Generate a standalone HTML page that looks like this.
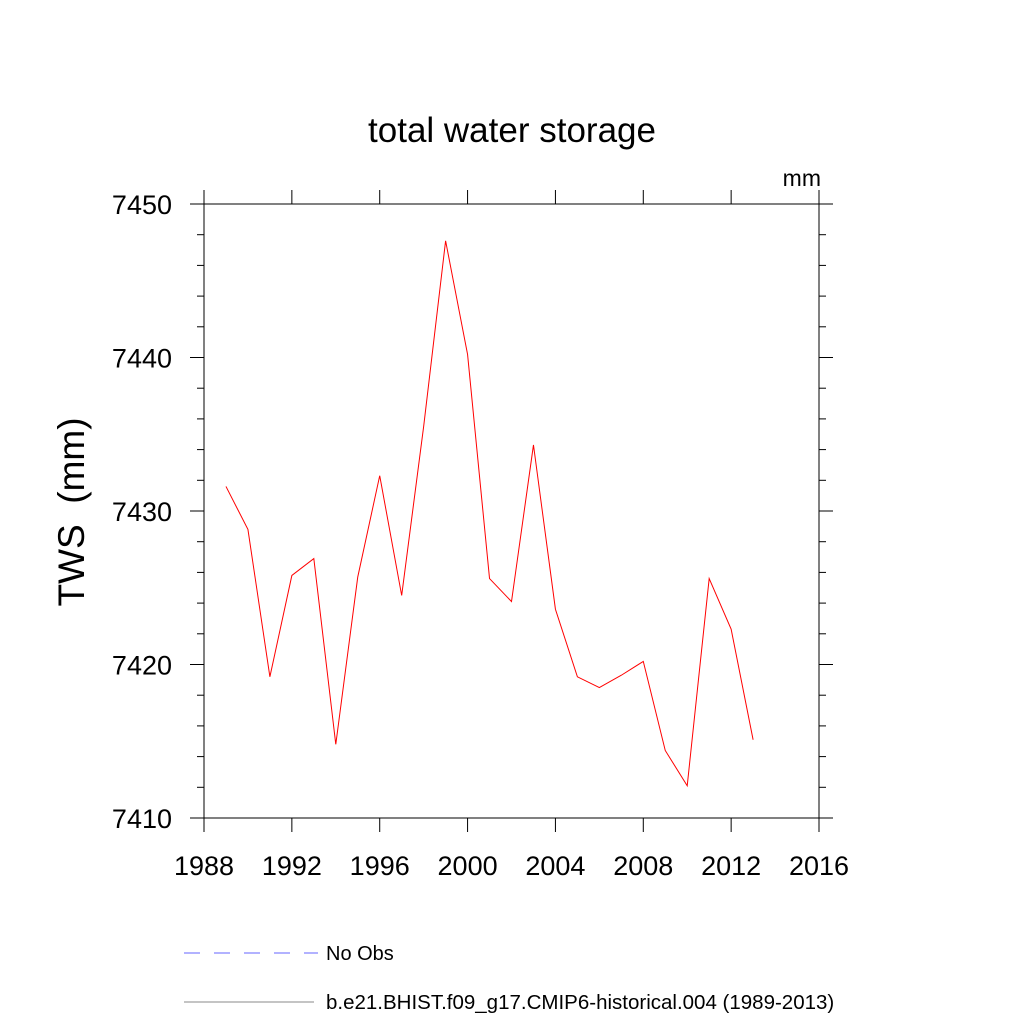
<!DOCTYPE html>
<html><head><meta charset="utf-8"><style>
html,body{margin:0;padding:0;background:#fff;}
svg text{font-family:"Liberation Sans",Helvetica,Arial,sans-serif;fill:#000;white-space:pre;}
</style></head><body>
<svg id="chart" width="1024" height="1024" viewBox="0 0 1024 1024" xmlns="http://www.w3.org/2000/svg">
<rect width="1024" height="1024" fill="#fff"/>
<text x="512" y="142" font-size="35" text-anchor="middle">total water storage</text>
<text x="821" y="186" font-size="23" text-anchor="end">mm</text>
<text transform="translate(84,512) rotate(-90)" font-size="37" text-anchor="middle" xml:space="preserve">TWS  (mm)</text>
<g id="axes"></g>
<g id="series"></g>
<g>
<line x1="184" y1="953" x2="318" y2="953" stroke="#6666ff" stroke-width="1" stroke-dasharray="16,14"/>
<text x="326" y="960" font-size="20">No Obs</text>
<line x1="184" y1="1002" x2="314" y2="1002" stroke="#888" stroke-width="1"/>
<text x="326" y="1009" font-size="20.5">b.e21.BHIST.f09_g17.CMIP6-historical.004 (1989-2013)</text>
</g>
</svg>
<script>
const years = [1989,1990,1991,1992,1993,1994,1995,1996,1997,1998,1999,2000,2001,2002,2003,2004,2005,2006,2007,2008,2009,2010,2011,2012,2013];
const tws = [7431.6,7428.8,7419.2,7425.8,7426.9,7414.8,7425.7,7432.3,7424.5,7435.5,7447.6,7440.2,7425.6,7424.1,7434.3,7423.6,7419.2,7418.5,7419.3,7420.2,7414.4,7412.1,7425.6,7422.3,7415.1];
const xTicks = [1988,1992,1996,2000,2004,2008,2012,2016];
const yTicks = [7410,7420,7430,7440,7450];

const L=204,R=819,T=204,B=818;
const xMin=1988,xMax=2016,yMin=7410,yMax=7450;
function xs(v){return L+(v-xMin)/(xMax-xMin)*(R-L);}
function ys(v){return B-(v-yMin)/(yMax-yMin)*(B-T);}
const NS="http://www.w3.org/2000/svg";
const axes=document.getElementById('axes');
function mk(tag,attrs,parent){const e=document.createElementNS(NS,tag);for(const k in attrs)e.setAttribute(k,attrs[k]);parent.appendChild(e);return e;}
const frame=mk('rect',{x:L,y:T,width:R-L,height:B-T,fill:'none',stroke:'#000','stroke-width':1},axes);


xTicks.forEach(v=>{
  const x=xs(v);
  const t1=mk('line',{x1:x,y1:B,x2:x,y2:B+14,stroke:'#000'},axes);
  
  
  const t2=mk('line',{x1:x,y1:T,x2:x,y2:T-14,stroke:'#000'},axes);
  
  
  const lb=mk('text',{x:x,y:B+57,'font-size':27,'text-anchor':'middle'},axes);
  lb.textContent=v;
  
  
});
for(let v=yMin;v<=yMax;v+=2){
  const y=ys(v);const major=(v%10===0);const len=major?14:7;
  const a=mk('line',{x1:L,y1:y,x2:L-len,y2:y,stroke:'#000'},axes);
  
  
  const b=mk('line',{x1:R,y1:y,x2:R+len,y2:y,stroke:'#000'},axes);
  
  
}
yTicks.forEach(v=>{
  const lb=mk('text',{x:L-32,y:ys(v)+10,'font-size':27,'text-anchor':'end'},axes);
  lb.textContent=v;
  
  
});
const pts=years.map((yr,i)=>xs(yr)+','+ys(tws[i])).join(' ');
const line=mk('polyline',{points:pts,fill:'none',stroke:'#ff0000','stroke-width':1},document.getElementById('series'));


</script>
</body></html>
